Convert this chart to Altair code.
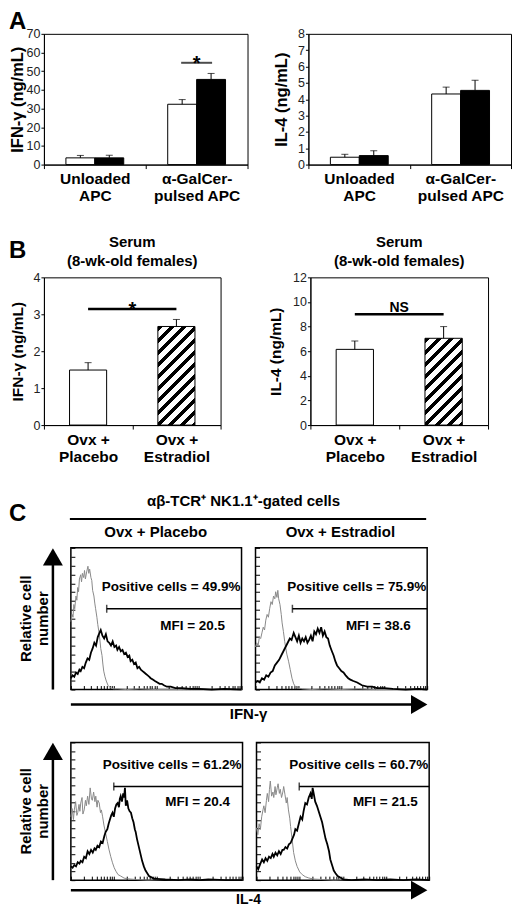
import math
import altair as alt
import pandas as pd

FONT = "Liberation Sans"

# ---------------- panel A: cytokines from NKT cells (ng/mL) ----------------
a_conditions = ["Unloaded|APC", "α-GalCer-|pulsed APC"]
a_groups = ["Ovx + Placebo", "Ovx + Estradiol"]
a_ifn_placebo = [3.6, 32.3]
a_ifn_placebo_sem = [1.3, 2.5]
a_ifn_estradiol = [3.6, 45.6]
a_ifn_estradiol_sem = [1.4, 3.2]
a_il4_placebo = [0.45, 4.32]
a_il4_placebo_sem = [0.18, 0.42]
a_il4_estradiol = [0.55, 4.54]
a_il4_estradiol_sem = [0.30, 0.62]
a_ifn_star = [54.5]

# ---------------- panel B: serum of 8-wk-old females ----------------
b_groups = ["Ovx +|Placebo", "Ovx +|Estradiol"]
b_ifn = [1.49, 2.67]
b_ifn_sem = [0.20, 0.19]
b_il4 = [6.15, 7.05]
b_il4_sem = [0.68, 0.95]
b_ifn_bracket = [3.14]
b_il4_bracket = [9.0]

# ---------------- panel C: flow histograms (x in log decades, y in % of frame) ----------------
tl_gray_x = [0.00, 0.03, 0.05, 0.07, 0.09, 0.12, 0.14, 0.16, 0.18, 0.20, 0.23, 0.25, 0.27, 0.30, 0.32, 0.34,
             0.37, 0.40, 0.42, 0.44, 0.47, 0.49, 0.51, 0.54, 0.56, 0.58, 0.61, 0.63, 0.66, 0.68, 0.70, 0.73,
             0.75, 0.77, 0.80, 0.83, 0.87, 0.90, 0.94, 1.00, 1.10, 1.30, 1.60, 2.00, 2.50, 3.00, 3.50, 4.00]
tl_gray_y = [48, 53, 51, 60, 57, 66, 63, 72, 69, 78, 81, 76, 82, 79, 84, 78, 83, 87, 82, 85, 79, 77, 70, 66,
             61, 57, 51, 46, 40, 35, 29, 24, 18, 13, 9, 6, 3, 2, 1, 0.5, 0.5, 0, 0.5, 0, 0, 0.5, 0, 0]
tl_black_x = [0.00, 0.04, 0.08, 0.12, 0.16, 0.20, 0.23, 0.27, 0.31, 0.35, 0.39, 0.43, 0.47, 0.51, 0.55, 0.59,
              0.63, 0.67, 0.70, 0.74, 0.78, 0.82, 0.86, 0.90, 0.94, 0.98, 1.02, 1.06, 1.09, 1.13, 1.17, 1.21,
              1.25, 1.29, 1.33, 1.37, 1.40, 1.44, 1.48, 1.52, 1.56, 1.60, 1.64, 1.68, 1.72, 1.76, 1.80, 1.84,
              1.87, 1.92, 1.97, 2.03, 2.08, 2.13, 2.18, 2.25, 2.34, 2.45, 2.60, 2.80, 3.00, 3.30, 3.60, 4.00]
tl_black_y = [8, 10, 9, 12, 11, 14, 13, 16, 15, 19, 22, 21, 26, 29, 33, 31, 37, 40, 42, 38, 36, 39, 34, 33,
              31, 34, 30, 31, 28, 30, 27, 28, 25, 26, 23, 24, 20, 21, 18, 19, 15, 16, 14, 13, 12, 11, 10, 9,
              8, 7, 6, 5, 4, 4, 3, 2, 2, 1, 1, 0.5, 0.5, 0, 0.5, 0]

tr_gray_x = [0.00, 0.03, 0.06, 0.09, 0.12, 0.15, 0.18, 0.21, 0.24, 0.27, 0.30, 0.33, 0.36, 0.39, 0.42, 0.45,
             0.47, 0.50, 0.52, 0.54, 0.57, 0.60, 0.62, 0.65, 0.68, 0.70, 0.73, 0.77, 0.81, 0.85, 0.89, 0.93,
             1.00, 1.10, 1.30, 1.60, 2.00, 2.40, 2.80, 3.20, 3.60, 4.00]
tr_gray_y = [30, 33, 31, 37, 36, 40, 44, 42, 49, 53, 51, 57, 62, 60, 66, 64, 69, 65, 70, 64, 60, 53, 47, 41,
             34, 30, 25, 20, 14, 8, 4, 2, 1, 0.5, 0, 0.5, 0, 0.5, 0, 0, 0.5, 0]
tr_black_x = [0.00, 0.05, 0.10, 0.15, 0.20, 0.25, 0.30, 0.35, 0.40, 0.45, 0.50, 0.55, 0.60, 0.65, 0.70, 0.75,
              0.80, 0.84, 0.89, 0.93, 0.97, 1.01, 1.05, 1.09, 1.13, 1.17, 1.21, 1.25, 1.29, 1.33, 1.37, 1.41,
              1.45, 1.49, 1.53, 1.57, 1.61, 1.65, 1.69, 1.73, 1.78, 1.82, 1.86, 1.90, 1.95, 2.00, 2.05, 2.10,
              2.16, 2.21, 2.28, 2.37, 2.48, 2.60, 2.72, 2.83, 3.00, 3.20, 3.50, 3.80, 4.00]
tr_black_y = [5, 6, 5, 8, 7, 10, 9, 12, 13, 17, 19, 21, 24, 27, 30, 33, 36, 35, 40, 37, 34, 38, 33, 36, 34,
              37, 33, 35, 38, 34, 41, 39, 43, 40, 44, 38, 41, 37, 36, 31, 27, 24, 20, 17, 15, 13, 12, 10, 8,
              7, 6, 5, 3, 2, 2, 1, 1, 0.5, 0, 0.5, 0]

bl_gray_x = [0.00, 0.03, 0.06, 0.08, 0.11, 0.14, 0.16, 0.19, 0.21, 0.23, 0.26, 0.28, 0.31, 0.34, 0.36, 0.39,
             0.42, 0.45, 0.48, 0.50, 0.53, 0.56, 0.58, 0.61, 0.63, 0.66, 0.69, 0.71, 0.74, 0.77, 0.81, 0.85,
             0.89, 0.93, 0.97, 1.01, 1.05, 1.10, 1.16, 1.24, 1.32, 1.50, 1.80, 2.20, 2.60, 3.00, 3.40, 4.00]
bl_gray_y = [46, 52, 44, 51, 57, 47, 49, 55, 50, 56, 60, 48, 51, 58, 54, 61, 55, 67, 59, 58, 64, 57, 61, 53,
             58, 56, 49, 51, 46, 40, 34, 28, 22, 17, 12.6, 9, 6.5, 4, 3, 1.5, 1, 0.5, 0, 0.5, 0, 0.5, 0, 0]
bl_black_x = [0.00, 0.04, 0.08, 0.12, 0.16, 0.20, 0.23, 0.27, 0.31, 0.35, 0.39, 0.43, 0.47, 0.51, 0.55, 0.58,
              0.62, 0.66, 0.70, 0.74, 0.78, 0.81, 0.85, 0.88, 0.91, 0.94, 0.97, 1.00, 1.03, 1.06, 1.09, 1.12,
              1.14, 1.16, 1.19, 1.22, 1.24, 1.26, 1.28, 1.31, 1.34, 1.37, 1.40, 1.43, 1.46, 1.49, 1.51, 1.54,
              1.57, 1.60, 1.63, 1.66, 1.70, 1.74, 1.78, 1.82, 1.88, 1.94, 2.00, 2.20, 2.50, 2.80, 3.00, 3.20,
              3.60, 4.00]
bl_black_y = [10, 9, 11, 10, 13, 12, 14, 13, 17, 16, 21, 19, 22, 20, 23, 22, 25, 24, 28, 27, 32, 35, 37, 41,
              44, 47, 49, 46, 52, 55, 56, 53, 59, 61, 57, 63, 60, 67, 54, 58, 52, 50, 49, 45, 42, 37, 35, 30,
              26, 22, 18, 14, 10, 7, 5, 3, 2, 1, 1, 0.5, 0, 0.5, 0, 0.5, 0, 0]

br_gray_x = [0.00, 0.03, 0.06, 0.09, 0.12, 0.15, 0.17, 0.20, 0.23, 0.25, 0.28, 0.30, 0.32, 0.35, 0.38, 0.40,
             0.43, 0.45, 0.48, 0.50, 0.53, 0.55, 0.58, 0.61, 0.63, 0.66, 0.69, 0.71, 0.74, 0.77, 0.79, 0.82,
             0.86, 0.90, 0.94, 1.00, 1.06, 1.13, 1.21, 1.32, 1.50, 1.80, 2.20, 2.60, 3.00, 3.50, 4.00]
br_gray_y = [38, 33, 41, 37, 46, 51, 54, 49, 58, 63, 57, 66, 72, 61, 64, 60, 68, 62, 67, 70, 63, 66, 60, 64,
             68, 62, 56, 60, 51, 45, 39, 31, 20, 14, 10, 6, 4, 2.5, 1.6, 0.8, 0.5, 0, 0.5, 0, 0.5, 0, 0]
br_black_x = [0.00, 0.04, 0.09, 0.13, 0.17, 0.21, 0.25, 0.29, 0.33, 0.37, 0.40, 0.44, 0.48, 0.52, 0.56, 0.60,
              0.63, 0.67, 0.71, 0.75, 0.79, 0.83, 0.87, 0.90, 0.94, 0.98, 1.02, 1.06, 1.09, 1.13, 1.17, 1.21,
              1.25, 1.28, 1.30, 1.33, 1.36, 1.40, 1.44, 1.48, 1.52, 1.56, 1.60, 1.64, 1.68, 1.71, 1.75, 1.79,
              1.83, 1.88, 1.94, 2.01, 2.20, 2.50, 2.80, 3.10, 3.40, 3.70, 4.00]
br_black_y = [10, 8, 12, 15, 13, 16, 14, 17, 16, 19, 17, 20, 18, 21, 19, 22, 22, 24, 23, 26, 27, 30, 33, 37,
              36, 41, 46, 44, 50, 56, 55, 60, 63, 59, 67, 62, 57, 54, 50, 46, 42, 36, 30, 26, 21, 15, 11, 7,
              5, 3, 2, 0.5, 0, 0.5, 0, 0.5, 0, 0.5, 0]

c_gate_start = [0.84, 0.86, 1.00, 0.99]
c_gate_level = [57, 57, 68, 68]
c_positive = ["Positive cells = 49.9%", "Positive cells =  75.9%",
              "Positive cells =  61.2%", "Positive cells =  60.7%"]
c_mfi = ["MFI = 20.5", "MFI = 38.6", "MFI = 20.4", "MFI = 21.5"]

one = pd.DataFrame({"k": [0]})


def txt(s, x, y, size=15, align="center", baseline="alphabetic", angle=0, line_height=16):
    return alt.Chart(one).mark_text(
        fontSize=size, fontWeight="bold", color="black", align=align, baseline=baseline,
        angle=angle, lineHeight=line_height
    ).encode(x=alt.value(x), y=alt.value(y), text=alt.value(s))


def guard(x, y0, y1):
    # invisible rule that fixes the outer extent of a row in the stacked layout
    return alt.Chart(one).mark_rule(strokeOpacity=0, strokeWidth=1).encode(
        x=alt.value(x), y=alt.value(y0), y2=alt.value(y1))


def spacer(w, h):
    return alt.Chart(one).mark_rule(strokeOpacity=0).encode(
        x=alt.value(0), y=alt.value(0), y2=alt.value(h)
    ).properties(width=w, height=h, view=alt.ViewBackground(strokeOpacity=0))


def x_axis_bars():
    return alt.Axis(title=None, labelExpr="split(datum.label, '|')", labelAngle=0, labelFontSize=15.5,
                    labelFontWeight="bold", labelColor="black", labelLineHeight=17.5, labelPadding=3,
                    tickBand="extent", tickSize=4, tickColor="black", domainColor="black", grid=False)


def y_axis_bars(title, values, title_x, h, tsize):
    return alt.Axis(values=values, title=title, grid=False, domainColor="black", tickColor="black",
                    tickSize=3, labelFontSize=12.5, labelColor="#222", labelPadding=1,
                    titleFontSize=tsize, titleFontWeight="bold", titleColor="black", titleAngle=270,
                    titleX=title_x, titleY=h / 2, titleAlign="center", titleBaseline="middle")


def hatch(w, h, period=8.5, ink=0.45):
    # diagonal "/" stripes as a hard-stop linear gradient in bounding-box units
    k = (w + h) / (w * w + h * h)
    span = (w + h) / math.sqrt(2)
    stops, pos = [], 0.0
    while pos < span:
        a = pos / span
        b = min((pos + ink * period) / span, 1)
        c = min((pos + period) / span, 1)
        stops += [alt.GradientStop(offset=a, color="black"), alt.GradientStop(offset=b, color="black"),
                  alt.GradientStop(offset=b, color="white"), alt.GradientStop(offset=c, color="white")]
        pos += period
    return alt.LinearGradient(gradient="linear", stops=stops, x1=0, y1=0, x2=k * w, y2=k * h)


def panel_a(placebo, p_sem, estr, e_sem, ymax, ystep, ytitle, width, title_x, star=None, extra=()):
    H = 131
    rows = []
    for grp, vals, sems in [(a_groups[0], placebo, p_sem), (a_groups[1], estr, e_sem)]:
        for cond, v, s in zip(a_conditions, vals, sems):
            rows.append({"cond": cond, "grp": grp, "val": v, "hi": v + s})
    df = pd.DataFrame(rows)
    yax = y_axis_bars(ytitle, list(range(0, ymax + 1, ystep)), title_x, H, 16.5)
    ys = alt.Scale(domain=[0, ymax], nice=False)
    x = alt.X("cond:N", sort=a_conditions, scale=alt.Scale(paddingInner=0, paddingOuter=0), axis=x_axis_bars())
    xo = alt.XOffset("grp:N", sort=a_groups, scale=alt.Scale(paddingInner=0, paddingOuter=0.76))
    base = alt.Chart(df).encode(x=x, xOffset=xo)
    bars = base.mark_bar(stroke="black", strokeWidth=1).encode(
        y=alt.Y("val:Q", scale=ys, axis=yax),
        fill=alt.Fill("grp:N", scale=alt.Scale(domain=a_groups, range=["white", "black"]), legend=None))
    err = base.mark_rule(color="black", strokeWidth=1).encode(
        y=alt.Y("val:Q", scale=ys, axis=yax), y2="hi")
    cap = base.mark_tick(color="black", thickness=1, size=7, orient="horizontal").encode(
        y=alt.Y("hi:Q", scale=ys, axis=yax))
    layers = [bars, err, cap]
    if star:
        sdf = pd.DataFrame({"cond": [a_conditions[1]], "lvl": star})
        layers.append(alt.Chart(sdf).mark_tick(color="black", thickness=2, size=31, orient="horizontal").encode(
            x=x, y=alt.Y("lvl:Q", scale=ys, axis=yax)))
        layers.append(alt.Chart(sdf).mark_text(text="*", fontSize=20, fontWeight="bold", dy=1).encode(
            x=x, y=alt.Y("lvl:Q", scale=ys, axis=yax)))
    layers += list(extra)
    return alt.layer(*layers).properties(width=width, height=H)


def panel_b(vals, sems, ymax, ystep, ytitle, width, title_x, bracket, label, extra=()):
    H = 148
    df = pd.DataFrame({"grp": b_groups, "val": vals, "hi": [v + s for v, s in zip(vals, sems)]})
    yax = y_axis_bars(ytitle, list(range(0, ymax + 1, ystep)), title_x, H, 15.5)
    ys = alt.Scale(domain=[0, ymax], nice=False)
    x = alt.X("grp:N", sort=b_groups, scale=alt.Scale(paddingInner=0, paddingOuter=0), axis=x_axis_bars())
    band = 0.42
    bw = band * width / 2
    white = alt.Chart(df).transform_filter(alt.datum.grp == b_groups[0]).mark_bar(
        fill="white", stroke="black", strokeWidth=1, width=alt.RelativeBandSize(band)
    ).encode(x=x, y=alt.Y("val:Q", scale=ys, axis=yax))
    striped = alt.Chart(df).transform_filter(alt.datum.grp == b_groups[1]).mark_bar(
        fill=hatch(bw, vals[1] / ymax * H), stroke="black", strokeWidth=1, width=alt.RelativeBandSize(band)
    ).encode(x=x, y=alt.Y("val:Q", scale=ys, axis=yax))
    err = alt.Chart(df).mark_rule(color="black", strokeWidth=1).encode(
        x=x, y=alt.Y("val:Q", scale=ys, axis=yax), y2="hi")
    cap = alt.Chart(df).mark_tick(color="black", thickness=1, size=7, orient="horizontal").encode(
        x=x, y=alt.Y("hi:Q", scale=ys, axis=yax))
    sdf = pd.DataFrame({"grp": [b_groups[0]], "grp_end": [b_groups[1]], "lvl": bracket})
    sig = alt.Chart(sdf).mark_rule(color="black", strokeWidth=2.5).encode(
        x=x, x2=alt.X2("grp_end"), y=alt.Y("lvl:Q", scale=ys, axis=yax))
    if label == "*":
        sig_t = alt.Chart(sdf).mark_text(text=label, fontSize=20, fontWeight="bold", dy=1)
    else:
        sig_t = alt.Chart(sdf).mark_text(text=label, fontSize=14, fontWeight="bold", dy=-6)
    sig_t = sig_t.encode(x=alt.value(width / 2), y=alt.Y("lvl:Q", scale=ys, axis=yax))
    layers = [white, striped, err, cap, sig, sig_t,
              txt("Serum", width / 2, -30), txt("(8-wk-old females)", width / 2, -11)]
    layers += list(extra)
    return alt.layer(*layers).properties(width=width, height=H)


LOG_TICKS = [round(d + math.log10(m), 4) for d in range(4) for m in range(1, 10)] + [4.0]
Y_TICKS = [i * 6.25 for i in range(17)]


def histo(i, gx, gy, bx, by, width, height, pos_y, mfi_x, mfi_y, extra=()):
    xs = alt.Scale(domain=[0, 4], nice=False, zero=False)
    ys = alt.Scale(domain=[0, 100], nice=False)
    xax = alt.Axis(title=None, labels=False, domain=False, values=LOG_TICKS, tickSize=4, offset=-4,
                   tickColor="black", grid=False)
    yax = alt.Axis(title=None, labels=False, domain=False, values=Y_TICKS, tickSize=4, offset=-4,
                   tickColor="black", grid=False)
    X = alt.X("d:Q", scale=xs, axis=xax)
    Y = alt.Y("n:Q", scale=ys, axis=yax)
    gray = alt.Chart(pd.DataFrame({"d": gx, "n": gy})).mark_line(
        color="#8a8a8a", strokeWidth=1).encode(x=X, y=Y)
    black = alt.Chart(pd.DataFrame({"d": bx, "n": by})).mark_line(
        color="black", strokeWidth=1.8).encode(x=X, y=Y)
    gdf = pd.DataFrame({"d": [c_gate_start[i]], "d2": [4.0], "n": [c_gate_level[i]]})
    gate = alt.Chart(gdf).mark_rule(color="black", strokeWidth=1.5).encode(x=X, x2="d2", y=Y)
    gate_end = alt.Chart(gdf).mark_tick(color="black", orient="vertical", size=8, thickness=1.5).encode(x=X, y=Y)
    layers = [gray, black, gate, gate_end,
              txt(c_positive[i], width - 1, pos_y, size=13.5, align="right"),
              txt(c_mfi[i], mfi_x, mfi_y, size=13.5)]
    layers += list(extra)
    return alt.layer(*layers).properties(
        width=width, height=height, view=alt.ViewBackground(stroke="black", strokeWidth=1.5))


def arrow_up(x, top, bottom):
    shaft = alt.Chart(one).mark_rule(color="black", strokeWidth=2.5).encode(
        x=alt.value(x), y=alt.value(bottom), y2=alt.value(top + 14))
    head = alt.Chart(one).mark_point(shape="triangle-up", filled=True, color="black", size=400, opacity=1).encode(
        x=alt.value(x), y=alt.value(top + 9))
    return [shaft, head]


def arrow_right(x0, x1, y):
    shaft = alt.Chart(one).mark_rule(color="black", strokeWidth=2.5).encode(
        x=alt.value(x0), x2=alt.value(x1 - 12), y=alt.value(y))
    head = alt.Chart(one).mark_point(shape="triangle-right", filled=True, color="black", size=360, opacity=1).encode(
        x=alt.value(x1 - 9), y=alt.value(y))
    return [shaft, head]


# ---------------- assemble ----------------
a_left = panel_a(a_ifn_placebo, a_ifn_placebo_sem, a_ifn_estradiol, a_ifn_estradiol_sem,
                 70, 10, "IFN-γ (ng/mL)", 204, -26, star=a_ifn_star,
                 extra=[txt("A", -35, -24, size=24, align="left", baseline="top"), guard(-35, -24, 198)])
a_right = panel_a(a_il4_placebo, a_il4_placebo_sem, a_il4_estradiol, a_il4_estradiol_sem,
                  8, 1, "IL-4 (ng/mL)", 203, -27)

b_left = panel_b(b_ifn, b_ifn_sem, 4, 1, "IFN-γ (ng/mL)", 177, -26, b_ifn_bracket, "*",
                 extra=[txt("B", -35, -38, size=24, align="left", baseline="top"), guard(-35, -44, 213)])
b_right = panel_b(b_il4, b_il4_sem, 12, 2, "IL-4 (ng/mL)", 178, -35, b_il4_bracket, "NS")

H1, H2 = 142, 138
tl_extra = [
    txt("C", -62, -46, size=24, align="left", baseline="top"),
    txt("αβ-TCR⁺ NK1.1⁺-gated cells", 173, -42, size=15),
    alt.Chart(one).mark_rule(color="black", strokeWidth=2).encode(
        x=alt.value(-1), x2=alt.value(356), y=alt.value(-29)),
    txt("Ovx + Placebo", 85, -11, size=15),
    txt(["Relative cell", "number"], -45, H1 / 2, size=15, baseline="middle", angle=270, line_height=17),
    txt("IFN-γ", 178, H1 + 30, size=15),
    guard(-62, -56, 191),
] + arrow_up(-18, 0, H1) + arrow_right(0, 358, H1 + 15)
c_tl = histo(0, tl_gray_x, tl_gray_y, tl_black_x, tl_black_y, 171, H1, 43, 122, 82, tl_extra)
c_tr = histo(1, tr_gray_x, tr_gray_y, tr_black_x, tr_black_y, 172, H1, 43, 123, 82,
             [txt("Ovx + Estradiol", 85, -11, size=15)])

bl_extra = [
    txt(["Relative cell", "number"], -45, H2 / 2, size=15, baseline="middle", angle=270, line_height=17),
    txt("IL-4", 178, H2 + 24, size=14),
    guard(-62, -2, 150),
] + arrow_up(-18, 0, H2) + arrow_right(0, 358, H2 + 10)
c_bl = histo(2, bl_gray_x, bl_gray_y, bl_black_x, bl_black_y, 172, H2, 27, 127, 64, bl_extra)
c_br = histo(3, br_gray_x, br_gray_y, br_black_x, br_black_y, 173, H2, 27, 129, 64)

# C rows start 27 px further right than A/B: a 13 px spacer plus the 14 px gap
row_a = alt.hconcat(a_left, a_right, spacing=61, bounds="flush")
row_b = alt.hconcat(b_left, b_right, spacing=90, bounds="flush")
row_c1 = alt.hconcat(spacer(13, H1), c_tl, c_tr, spacing=14, bounds="flush")
row_c2 = alt.hconcat(spacer(13, H2), c_bl, c_br, spacing=14, bounds="flush")

chart = alt.vconcat(row_a, row_b, row_c1, row_c2, spacing=0).properties(
    padding=0).configure(font=FONT).configure_view(stroke="black", strokeWidth=1)

chart.save("out.html", embed_options={"renderer": "svg", "actions": False})
